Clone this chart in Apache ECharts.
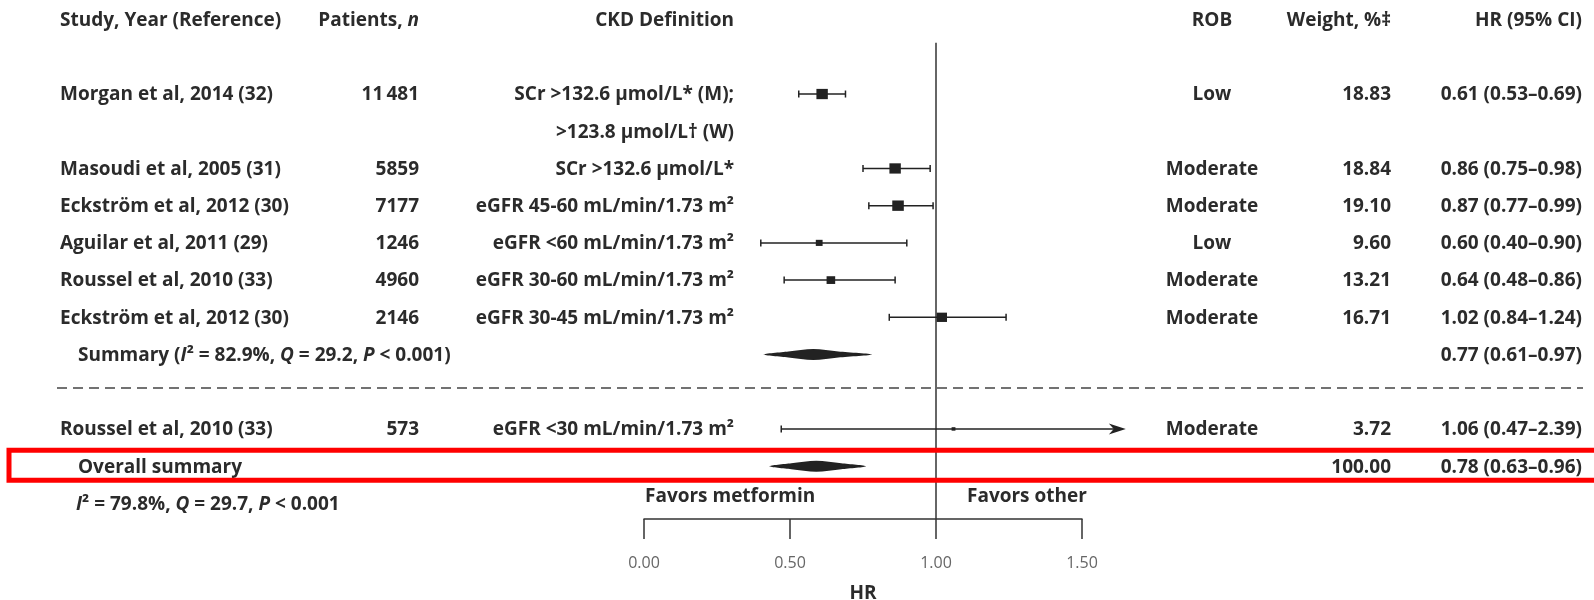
<!DOCTYPE html>
<html>
<head>
<meta charset="utf-8">
<title>Metformin in CKD - forest plot</title>
<script src="https://cdn.jsdelivr.net/npm/echarts@6/dist/echarts.min.js"></script>
<style>
  html, body { margin: 0; padding: 0; background: #fff; }
  #main { width: 1594px; height: 600px; }
</style>
</head>
<body>
<div id="main"></div>
<script>
// one entry per study, top to bottom
const studies = ['Morgan et al, 2014 (32)', 'Masoudi et al, 2005 (31)', 'Eckström et al, 2012 (30)',
  'Aguilar et al, 2011 (29)', 'Roussel et al, 2010 (33)', 'Eckström et al, 2012 (30)', 'Roussel et al, 2010 (33)'];
const patients = ['11\u2009481', '5859', '7177', '1246', '4960', '2146', '573'];
const ckdDefinition = [
  ['SCr >132.6 μmol/L* (M);', '>123.8 μmol/L† (W)'],
  ['SCr >132.6 μmol/L*'],
  ['eGFR 45-60 mL/min/1.73 m²'],
  ['eGFR <60 mL/min/1.73 m²'],
  ['eGFR 30-60 mL/min/1.73 m²'],
  ['eGFR 30-45 mL/min/1.73 m²'],
  ['eGFR <30 mL/min/1.73 m²']
];
const rob = ['Low', 'Moderate', 'Moderate', 'Low', 'Moderate', 'Moderate', 'Moderate'];
const weight = [18.83, 18.84, 19.10, 9.60, 13.21, 16.71, 3.72];
const hr = [0.61, 0.86, 0.87, 0.60, 0.64, 1.02, 1.06];
const hrLow = [0.53, 0.75, 0.77, 0.40, 0.48, 0.84, 0.47];
const hrHigh = [0.69, 0.98, 0.99, 0.90, 0.86, 1.24, 2.39];

// pooled results: printed values, and where the diamonds sit in the figure
const summaryLabels = ['Summary', 'Overall summary'];
const summaryWeight = ['', '100.00'];
const summaryHR = [0.77, 0.78];
const summaryLow = [0.61, 0.63];
const summaryHigh = [0.97, 0.96];
const diamondLow = [0.41, 0.43];
const diamondMid = [0.58, 0.59];
const diamondHigh = [0.78, 0.76];

const xTicks = [0, 0.5, 1, 1.5];

// layout: table row of each item (Morgan takes two lines)
const studyRow = [0, 2, 3, 4, 5, 6, 9];
const summaryRow = [7, 10];
const arrowLimit = 1.65;

const FONT = '"Open Sans", "Noto Sans", sans-serif';
const FS = 19;
const INK = '#2b2b2b';
const MARK = '#222';

const fmt = v => v.toFixed(2);
const hrText = (e, l, h) => fmt(e) + ' (' + fmt(l) + '–' + fmt(h) + ')';

// every text cell of the table
const cells = [];
function cell(row, x, align, text, extra) {
  cells.push(Object.assign({ row: row, x: x, align: align, text: text }, extra || {}));
}
const richBase = {
  b: { fontFamily: FONT, fontSize: FS, fontWeight: 700, fill: INK },
  i: { fontFamily: FONT, fontSize: FS, fontWeight: 700, fontStyle: 'italic', fill: INK }
};

cell(-2, 60, 'left', 'Study, Year (Reference)');
cell(-2, 419, 'right', '{b|Patients, }{i|n}', { rich: true });
cell(-2, 734, 'right', 'CKD Definition');
cell(-2, 1212, 'center', 'ROB');
cell(-2, 1391, 'right', 'Weight, %‡');
cell(-2, 1582, 'right', 'HR (95% CI)');

studies.forEach((s, i) => {
  const r = studyRow[i];
  cell(r, 60, 'left', s);
  cell(r, 419, 'right', patients[i]);
  ckdDefinition[i].forEach((line, k) => cell(r + k, 734, 'right', line));
  cell(r, 1212, 'center', rob[i]);
  cell(r, 1391, 'right', fmt(weight[i]));
  cell(r, 1582, 'right', hrText(hr[i], hrLow[i], hrHigh[i]));
});

cell(summaryRow[0], 78, 'left',
  '{b|' + summaryLabels[0] + ' (}{i|I}{b|² = 82.9%, }{i|Q}{b| = 29.2, }{i|P}{b| < 0.001)}', { rich: true });
cell(summaryRow[1], 78, 'left', summaryLabels[1]);
cell(11, 76, 'left', '{i|I}{b|² = 79.8%, }{i|Q}{b| = 29.7, }{i|P}{b| < 0.001}', { rich: true });
summaryRow.forEach((r, k) => {
  if (summaryWeight[k]) cell(r, 1391, 'right', summaryWeight[k]);
  cell(r, 1582, 'right', hrText(summaryHR[k], summaryLow[k], summaryHigh[k]));
});
cell(10.78, 645, 'left', 'Favors metformin');
cell(10.78, 967, 'left', 'Favors other');

const chart = echarts.init(document.getElementById('main'));

function renderCell(params, api) {
  const c = cells[params.dataIndex];
  const y = api.coord([0, c.row])[1] + 1;
  const style = {
    text: c.text, x: c.x, y: y, align: c.align, verticalAlign: 'middle',
    fontFamily: FONT, fontSize: FS, fontWeight: 700, fill: INK
  };
  if (c.rich) style.rich = richBase;
  return { type: 'text', style: style };
}

function renderStudy(params, api) {
  const i = params.dataIndex;
  const y = api.coord([0, studyRow[i]])[1];
  const x0 = api.coord([hrLow[i], 0])[0];
  const clipped = hrHigh[i] > arrowLimit;
  const x1 = api.coord([Math.min(hrHigh[i], arrowLimit), 0])[0];
  const xm = api.coord([hr[i], 0])[0];
  const s = 2 + weight[i] * 0.5;
  const line = { stroke: MARK, lineWidth: 1.5 };
  const kids = [
    { type: 'line', shape: { x1: x0, y1: y, x2: clipped ? x1 - 10 : x1, y2: y }, style: line },
    { type: 'line', shape: { x1: x0, y1: y - 3.5, x2: x0, y2: y + 3.5 }, style: line }
  ];
  if (clipped) {
    kids.push({ type: 'polygon', shape: { points: [[x1, y], [x1 - 17, y - 5.5], [x1 - 12, y], [x1 - 17, y + 5.5]] },
      style: { fill: MARK } });
  } else {
    kids.push({ type: 'line', shape: { x1: x1, y1: y - 3.5, x2: x1, y2: y + 3.5 }, style: line });
  }
  kids.push({ type: 'rect', shape: { x: xm - s / 2, y: y - s * 0.45, width: s, height: s * 0.9 },
    style: { fill: MARK } });
  return { type: 'group', children: kids };
}

function renderDiamond(params, api) {
  const k = params.dataIndex;
  const y = api.coord([0, summaryRow[k]])[1];
  const a = api.coord([diamondLow[k], 0])[0];
  const m = api.coord([diamondMid[k], 0])[0];
  const b = api.coord([diamondHigh[k], 0])[0];
  return {
    type: 'polygon',
    shape: { points: [[a, y], [m - 25, y - 3], [m, y - 5.5], [m + 25, y - 3], [b, y], [m + 25, y + 3], [m, y + 5.5], [m - 25, y + 3]], smooth: 0.3 },
    style: { fill: MARK }
  };
}

chart.setOption({
  backgroundColor: '#fff',
  animation: false,
  grid: { left: 644, right: 512, top: 19.6, bottom: 81, outerBoundsMode: 'none' },
  xAxis: {
    type: 'value', min: xTicks[0], max: xTicks[xTicks.length - 1], interval: xTicks[1] - xTicks[0],
    axisLine: { show: true, onZero: false, lineStyle: { color: '#333', width: 1.5 } },
    axisTick: { show: true, length: 20, lineStyle: { color: '#333', width: 1.5 } },
    axisLabel: { formatter: v => v.toFixed(2), margin: 36, color: '#666', fontSize: 16, fontFamily: FONT },
    splitLine: { show: false },
    name: 'HR', nameLocation: 'middle', nameGap: 65,
    nameTextStyle: { fontFamily: FONT, fontSize: FS, fontWeight: 700, color: INK }
  },
  yAxis: { type: 'value', inverse: true, min: -2, max: 11.42, show: false },
  series: [
    {
      name: 'no effect', type: 'line', data: [[1, -1.38], [1, 11.42]], symbol: 'none', silent: true,
      lineStyle: { color: '#333', width: 1.5 }, z: 1
    },
    {
      name: 'divider', type: 'custom', clip: false, silent: true, data: [[0, 7.9]],
      renderItem: (p, api) => {
        const y = api.coord([0, api.value(1)])[1];
        return { type: 'line', shape: { x1: 57, y1: y, x2: 1583, y2: y },
          style: { stroke: '#444', lineWidth: 1.5, lineDash: [10, 6] } };
      }
    },
    {
      name: 'studies', type: 'custom', clip: false, silent: true,
      data: hr.map((v, i) => [v, studyRow[i]]), renderItem: renderStudy, z: 3
    },
    {
      name: 'summaries', type: 'custom', clip: false, silent: true,
      data: diamondMid.map((v, k) => [v, summaryRow[k]]), renderItem: renderDiamond, z: 3
    },
    {
      name: 'table', type: 'custom', clip: false, silent: true,
      data: cells.map(c => [0, c.row]), renderItem: renderCell, z: 4
    },
    {
      name: 'highlight', type: 'custom', clip: false, silent: true, data: [[0, summaryRow[1]]],
      renderItem: (p, api) => {
        const y = api.coord([0, api.value(1)])[1];
        return { type: 'rect', shape: { x: 9, y: y - 16, width: 1600, height: 30 },
          style: { fill: 'none', stroke: '#ff0000', lineWidth: 5 } };
      }, z: 5
    }
  ]
});
</script>
</body>
</html>
